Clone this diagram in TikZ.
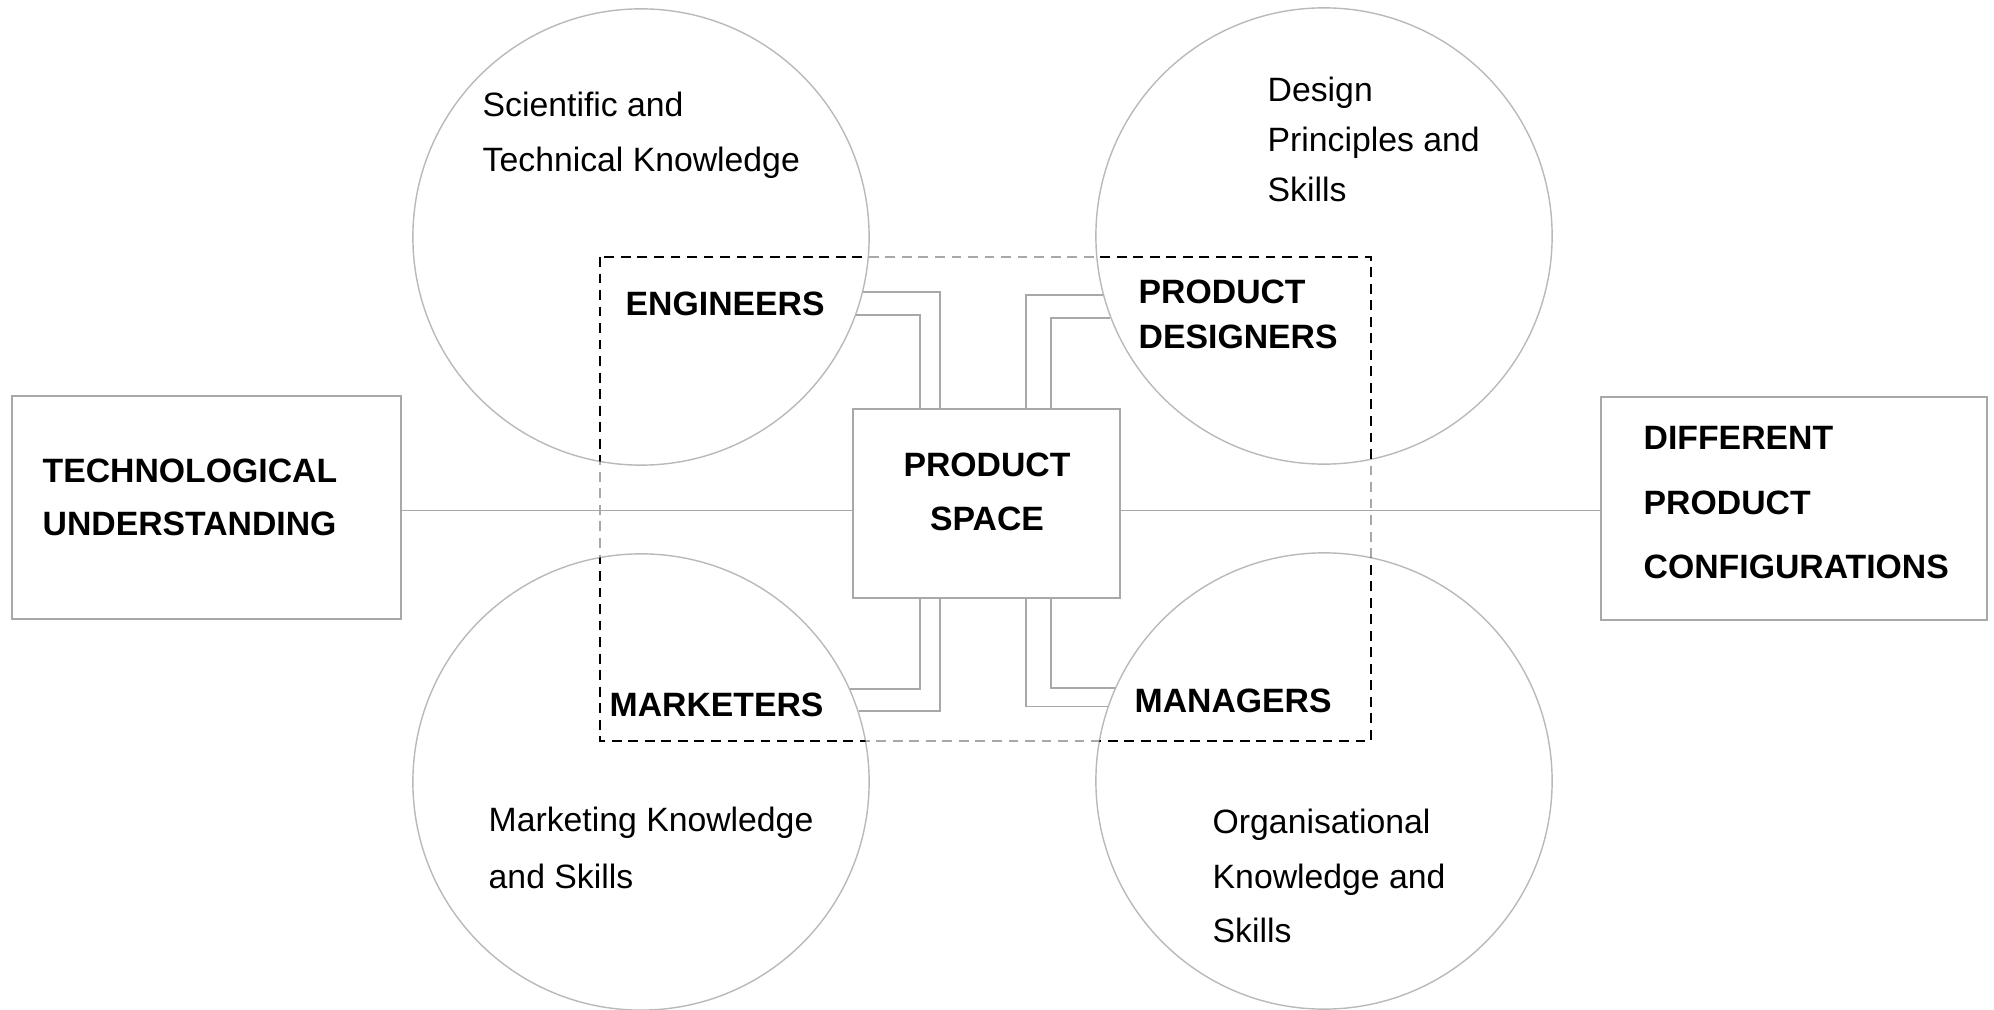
\documentclass[tikz,border=0pt]{standalone}
\usepackage{fontspec}
\setmainfont{Liberation Sans}
\usepackage{tikz}

\definecolor{linegray}{RGB}{168,168,168}
\definecolor{ringgray}{RGB}{185,185,185}
\newcommand{\txtsize}[1]{\fontsize{9.6}{#1}\selectfont}

\tikzset{
    knowcircle/.style={circle, draw=ringgray, line width=0.4pt, minimum size=4.56cm, inner sep=0pt},
    plainbox/.style={draw=linegray, line width=0.5pt, inner sep=0pt},
    link/.style={draw=linegray, line width=0.5pt},
    groupframe/.style={line width=0.6pt, dash pattern=on 2.8pt off 1.9pt},
    normtxt/.style={anchor=north west, inner sep=0pt, align=left},
}

\begin{document}
\begin{tikzpicture}[x=0.01cm, y=-0.01cm]
    \useasboundingbox (0,0) rectangle (1994,1010);

    % the four knowledge circles
    \node[knowcircle] (sci) at (641,237) {};
    \node[knowcircle] (des) at (1324,236) {};
    \node[knowcircle] (mkt) at (641,782) {};
    \node[knowcircle] (org) at (1324,781) {};

    % boxes
    \node[plainbox, minimum width=3.89cm, minimum height=2.23cm] (tech) at (206.5,507.5) {};
    \node[plainbox, minimum width=2.67cm, minimum height=1.89cm] (space) at (986.5,503.5) {};
    \node[plainbox, minimum width=3.86cm, minimum height=2.23cm] (diff) at (1794,508.5) {};

    % dashed frame, black where it runs inside the circles
    \coordinate (fnw) at (600,257);
    \coordinate (fse) at (1371,741);
    \draw[groupframe, draw=linegray] (fnw) rectangle (fse);
    \begin{scope}
        \clip (sci.center) circle[radius=2.28cm] (des.center) circle[radius=2.28cm]
              (mkt.center) circle[radius=2.28cm] (org.center) circle[radius=2.28cm];
        \draw[groupframe] (fnw) rectangle (fse);
    \end{scope}

    % main line
    \draw[link] ([yshift=-0.03cm]tech.east) -- ([yshift=-0.03cm]tech.east -| space.west);
    \draw[link] ([yshift=-0.02cm]space.east |- diff.west) -- ([yshift=-0.02cm]diff.west);

    % double links from the circles into the product space
    \draw[link] (sci.-14.5) -| ([xshift=0.88cm]space.north west);
    \draw[link] (sci.-20.5) -| ([xshift=0.68cm]space.north west);
    \draw[link] (des.-165.3) -| ([xshift=-0.95cm]space.north east);
    \draw[link] (des.-159.2) -| ([xshift=-0.70cm]space.north east);
    \draw[link] (mkt.24.1) -| ([xshift=0.68cm]space.south west);
    \draw[link] (mkt.18.7) -| ([xshift=0.88cm]space.south west);
    \draw[link] (org.156.2) -| ([xshift=-0.70cm]space.south east);
    \draw[link] (org.161.6) -| ([xshift=-0.95cm]space.south east);

    % circle texts
    \node[normtxt, font=\txtsize{15.6pt}] (scitxt) at (482,91) {Scientific and\\Technical Knowledge};
    \node[normtxt, font=\txtsize{14.2pt}] (destxt) at (1267,76) {Design\\Principles and\\Skills};
    \node[normtxt, font=\txtsize{16.2pt}] (mkttxt) at (488,806) {Marketing Knowledge\\and Skills};
    \node[normtxt, font=\txtsize{15.6pt}] (orgtxt) at (1212,808) {Organisational\\Knowledge and\\Skills};

    % roles
    \node[normtxt, font=\txtsize{12.8pt}\bfseries] (engl) at (625,291) {ENGINEERS};
    \node[normtxt, font=\txtsize{12.8pt}\bfseries] (pdesl) at (1138,279) {PRODUCT\\DESIGNERS};
    \node[normtxt, font=\txtsize{12.8pt}\bfseries] (mktl) at (609,692) {MARKETERS};
    \node[normtxt, font=\txtsize{12.8pt}\bfseries] (mgrl) at (1134,688) {MANAGERS};

    % box texts
    \node[normtxt, font=\txtsize{15.1pt}\bfseries] (techtxt) at (42,458) {TECHNOLOGICAL\\UNDERSTANDING};
    \node[anchor=north, inner sep=0pt, align=center, font=\txtsize{15.4pt}\bfseries] (spacetxt) at (987,452) {PRODUCT\\SPACE};
    \node[normtxt, font=\txtsize{18.3pt}\bfseries] (difftxt) at (1643,426) {DIFFERENT\\PRODUCT\\CONFIGURATIONS};
\end{tikzpicture}
\end{document}
